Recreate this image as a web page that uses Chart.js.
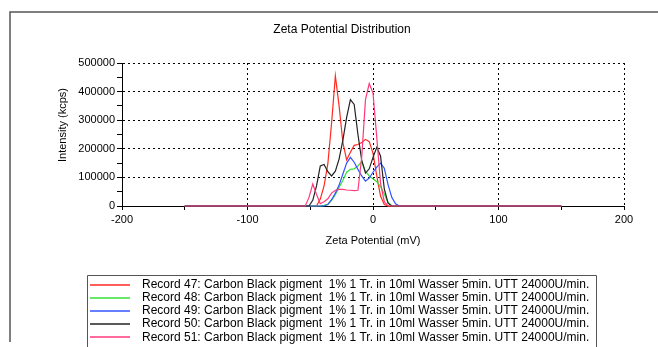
<!DOCTYPE html>
<html>
<head>
<meta charset="utf-8">
<script src="https://cdn.jsdelivr.net/npm/chart.js@4/dist/chart.umd.min.js"></script>
<style>
  html, body { margin: 0; padding: 0; background: #fff; }
  #wrap { width: 658px; height: 347px; position: relative; }
</style>
</head>
<body>
<div id="wrap"><canvas id="zeta-chart" width="658" height="347"></canvas></div>
<script>
"use strict";

// 読み取った値 (mV / kcps)
const zeta = [-150,
  -57, -54, -51, -48, -45, -42, -39, -36, -33, -30, -27, -24, -21, -18,
  -15, -12, -9, -6, -3, 0, 3, 6, 9, 12, 15, 18, 21, 24,
  150];

const record47 = [0,
  0, 0, 0, 0, 0, 24000, 70000, 147000, 290000, 455000, 349000, 222000, 161000, 188000,
  212000, 215000, 222000, 233000, 225000, 185000, 105000, 35000, 5000, 0, 0, 0, 0, 0,
  0];
const record48 = [0,
  0, 0, 0, 0, 0, 0, 2000, 6000, 20000, 40000, 65000, 90000, 118000, 128000,
  130000, 140000, 155000, 122000, 105000, 95000, 85000, 68000, 42000, 12000, 0, 0, 0, 0,
  0];
const record49 = [0,
  0, 0, 0, 0, 0, 0, 0, 5000, 22000, 45000, 73000, 112000, 150000, 170000,
  153000, 128000, 105000, 87000, 98000, 118000, 136000, 150000, 132000, 75000, 30000, 8000, 0, 0,
  0];
const record50 = [0,
  0, 0, 0, 20000, 70000, 140000, 145000, 120000, 105000, 122000, 165000, 230000, 310000, 372000,
  355000, 250000, 160000, 115000, 130000, 170000, 205000, 175000, 60000, 10000, 0, 0, 0, 0,
  0];
const record51 = [0,
  0, 0, 30000, 77000, 40000, 8000, 15000, 25000, 45000, 55000, 58000, 58000, 56000, 55000,
  54000, 55000, 170000, 372000, 428000, 395000, 240000, 80000, 15000, 0, 0, 0, 0, 0,
  0];

const seriesLabels = [
  "Record 47: Carbon Black pigment  1% 1 Tr. in 10ml Wasser 5min. UTT 24000U/min.",
  "Record 48: Carbon Black pigment  1% 1 Tr. in 10ml Wasser 5min. UTT 24000U/min.",
  "Record 49: Carbon Black pigment  1% 1 Tr. in 10ml Wasser 5min. UTT 24000U/min.",
  "Record 50: Carbon Black pigment  1% 1 Tr. in 10ml Wasser 5min. UTT 24000U/min.",
  "Record 51: Carbon Black pigment  1% 1 Tr. in 10ml Wasser 5min. UTT 24000U/min."
];
const seriesValues = [record47, record48, record49, record50, record51];
const seriesColors = ["#ff2a1f", "#36e036", "#3355ff", "#222222", "#ff3a7c"];

const chartTitle = "Zeta Potential Distribution";
const xTitle = "Zeta Potential (mV)";
const yTitle = "Intensity (kcps)";

const FONT = '"Liberation Sans", Arial, Helvetica, sans-serif';

// 枠・タイトル・凡例を描くプラグイン
const framePlugin = {
  id: "frame",
  afterDraw(chart) {
    const ctx = chart.ctx;
    ctx.save();

    // 外枠
    ctx.strokeStyle = "#555";
    ctx.lineWidth = 1.5;
    ctx.beginPath();
    ctx.moveTo(10, 342);
    ctx.lineTo(10, 12);
    ctx.lineTo(658, 12);
    ctx.stroke();

    // タイトル
    ctx.fillStyle = "#000";
    ctx.textAlign = "center";
    ctx.textBaseline = "middle";
    ctx.font = `12px ${FONT}`;
    ctx.fillText(chartTitle, 342, 30);

    // 縦軸タイトル
    ctx.save();
    ctx.translate(63, 125);
    ctx.rotate(-Math.PI / 2);
    ctx.font = `11px ${FONT}`;
    ctx.fillText(yTitle, 0, 0);
    ctx.restore();

    // 凡例
    ctx.strokeStyle = "#555";
    ctx.lineWidth = 1;
    ctx.beginPath();
    ctx.moveTo(87.5, 347);
    ctx.lineTo(87.5, 275.5);
    ctx.lineTo(596.5, 275.5);
    ctx.lineTo(596.5, 347);
    ctx.stroke();

    ctx.textAlign = "left";
    ctx.font = `12px ${FONT}`;
    chart.data.datasets.forEach((ds, i) => {
      const y = 284.5 + i * 13.2;
      ctx.strokeStyle = ds.borderColor;
      ctx.lineWidth = 1.6;
      ctx.beginPath();
      ctx.moveTo(90, Math.round(y));
      ctx.lineTo(130, Math.round(y));
      ctx.stroke();
      ctx.fillStyle = "#000";
      ctx.fillText(ds.label, 142, y);
    });

    ctx.restore();
  }
};

function buildDatasets() {
  return seriesValues.map((values, i) => ({
    label: seriesLabels[i],
    data: zeta.map((x, k) => ({ x: x, y: values[k] })),
    borderColor: seriesColors[i],
    backgroundColor: seriesColors[i],
    borderWidth: 1.2,
    pointRadius: 0,
    showLine: true,
    tension: 0,
    clip: 3,
    order: seriesValues.length - 1 - i
  }));
}

function renderChart() {
  const ctx = document.getElementById("zeta-chart");

  new Chart(ctx, {
    type: "scatter",
    data: { datasets: buildDatasets() },
    options: {
      responsive: false,
      animation: false,
      devicePixelRatio: 1,
      layout: { padding: { left: 0, top: 63, right: 34, bottom: 99 } },
      plugins: {
        legend: { display: false },
        title: { display: false },
        tooltip: { enabled: false }
      },
      scales: {
        x: {
          type: "linear",
          min: -200,
          max: 200,
          afterFit: scale => { scale.height = 42; },
          ticks: {
            stepSize: 50,
            autoSkip: false,
            maxRotation: 0,
            padding: 3,
            color: "#000",
            font: { family: FONT, size: 11 },
            callback: v => (v % 100 === 0 ? String(v) : "")
          },
          grid: {
            color: c => (c.tick && c.tick.value % 100 === 0 && c.tick.value !== -200 ? "#000" : "rgba(0,0,0,0)"),
            tickColor: "#000",
            tickLength: 4,
            lineWidth: 1
          },
          border: { display: true, color: "#000", width: 1, dash: [2, 3] },
          title: {
            display: true,
            text: xTitle,
            color: "#000",
            font: { family: FONT, size: 11 },
            padding: { top: 0, bottom: 0 }
          }
        },
        y: {
          type: "linear",
          min: 0,
          max: 500000,
          afterFit: scale => { scale.width = 122; },
          ticks: {
            stepSize: 50000,
            autoSkip: false,
            padding: 2,
            color: "#000",
            font: { family: FONT, size: 11 },
            callback: v => (v % 100000 === 0 ? String(v) : "")
          },
          grid: {
            color: c => (c.tick && c.tick.value % 100000 === 0 && c.tick.value !== 0 ? "#000" : "rgba(0,0,0,0)"),
            tickColor: "#000",
            tickLength: 5,
            lineWidth: 1
          },
          border: { display: true, color: "#000", width: 1, dash: [2, 3] }
        }
      }
    },
    plugins: [framePlugin]
  });
}

renderChart();
</script>
</body>
</html>
